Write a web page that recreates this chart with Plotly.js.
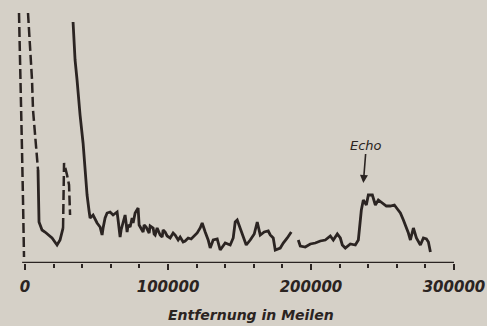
<!DOCTYPE html>
<html>
<head>
<meta charset="utf-8">
<script src="https://cdn.plot.ly/plotly-3.0.1.min.js"></script>
<style>
html,body{margin:0;padding:0;background:#d5d0c7;}
#chart{width:487px;height:326px;}
</style>
</head>
<body>
<div id="chart"></div>
<script>
// Distances in miles, signal strength in arbitrary units
const pulseLeftX = [-4200, -2800, -2100, -1400, -700];
const pulseLeftY = [250, 173, 113, 63, 6];
const pulseRightX = [2100, 3500, 4900, 5600, 7700, 9100];
const pulseRightY = [250, 220, 183, 153, 113, 93];
const nearX = [9100, 9800, 11900, 14000, 18900, 22400, 24500, 26600];
const nearY = [93, 41, 33, 31, 25, 18, 23, 35];
const spikeDashX = [26600, 27300, 29400, 30800, 31500];
const spikeDashY = [35, 100, 88, 78, 48];
const mainX = [33600,34300,35000,36400,37100,38500,40600,42000,43400,44800,45500,47600,49000,50400,52500,53900,54600,56000,57400,59500,61600,63000,64400,65100,66500,67200,68600,70000,70700,71400,72100,73500,74900,75600,77000,79100,79800,81200,82600,83300,84700,86100,86800,87500,89600,90300,91000,92400,93100,94500,95900,96600,98000,99400,101500,103600,105000,107100,108500,110600,112000,114100,116200,117600,120400,122500,123900,126000,128100,129500,131600,134400,136500,140000,143500,145600,147000,148400,150500,152600,154700,157500,160300,161700,162400,164500,167300,170100,171500,173600,175000,178500,180600,183400,186200];
const mainY = [241,223,203,183,170,148,120,93,68,52,45,48,44,40,36,28,35,45,50,51,48,50,51,43,26,33,40,48,40,31,38,36,45,40,50,55,38,34,31,38,36,32,30,37,35,29,28,35,33,28,26,33,31,27,25,30,28,23,26,21,22,25,24,26,30,35,40,31,23,15,23,24,13,20,18,25,41,43,35,27,18,23,29,37,41,28,31,32,28,25,13,15,20,25,31];
const echoX = [191100,192500,196000,199500,203000,206500,210000,213500,215600,218400,220500,221900,224000,227500,231000,233100,235200,236600,238700,240100,242900,245000,247100,249900,252700,255500,258300,260400,262500,264600,266000,268100,269500,271600,273700,276500,278600,280700,282100,283500];
const echoY = [23,17,16,19,20,22,23,27,23,29,25,18,15,19,18,23,53,63,58,68,68,58,63,60,57,57,58,54,50,43,38,30,23,35,25,18,25,24,21,11];
const tickVals = [0, 100000, 200000, 300000];
const tickText = ['0', '100000', '200000', '300000'];
const echoLabel = 'Echo';
const echoTipX = 236600, echoTipY = 80;
const xTitle = 'Entfernung in Meilen';

const ink = '#2b2422';
const dashLine = {color: ink, width: 2.5, dash: '10px,4px'};
const solidLine = {color: ink, width: 2.8};
function tr(x, y, line){return {x: x, y: y, type: 'scatter', mode: 'lines', line: line, hoverinfo: 'skip', showlegend: false};}

const data = [
  tr(pulseLeftX, pulseLeftY, dashLine),
  tr(pulseRightX, pulseRightY, dashLine),
  tr(nearX, nearY, solidLine),
  tr(spikeDashX, spikeDashY, dashLine),
  tr(mainX, mainY, solidLine),
  tr(echoX, echoY, solidLine)
];

const layout = {
  width: 487, height: 326,
  paper_bgcolor: '#d5d0c7', plot_bgcolor: 'rgba(0,0,0,0)',
  margin: {l: 15, r: 33, t: 8, b: 63},
  showlegend: false,
  xaxis: {
    range: [-7000, 300000], showgrid: false, zeroline: false, showline: false,
    tickmode: 'array', tickvals: tickVals, ticktext: tickText,
    ticks: 'outside', ticklen: 6, tickwidth: 2.2, tickcolor: ink, ticklabelstandoff: 4,
    tickfont: {family: 'DejaVu Sans', size: 15, color: ink, weight: 'bold', style: 'italic'},
    minor: {dtick: 20000, tick0: 0, ticks: 'outside', ticklen: 4, tickwidth: 2, tickcolor: ink, showgrid: false},
    fixedrange: true
  },
  yaxis: {range: [0, 255], visible: false, fixedrange: true},
  shapes: [
    {type: 'line', xref: 'x', yref: 'y', x0: -2000, x1: 300000, y0: 0, y1: 0, line: {color: ink, width: 2.5}},
    {type: 'line', xref: 'x', yref: 'y', x0: 300000, x1: 300000, y0: 0, y1: -9, line: {color: ink, width: 2.2}}
  ],
  annotations: [
    {x: echoTipX, y: echoTipY, xref: 'x', yref: 'y', text: echoLabel, showarrow: true,
     ax: 3, ay: -38, arrowhead: 2, arrowsize: 1, arrowwidth: 1.6, arrowcolor: ink,
     font: {family: 'DejaVu Sans', size: 13, color: ink, style: 'italic'}},
    {xref: 'paper', yref: 'paper', text: xTitle, showarrow: false,
     xanchor: 'center', yanchor: 'middle',
     x: (251 - 15) / (487 - 15 - 33), y: -(315 - 263) / 255,
     font: {family: 'DejaVu Sans', size: 14, color: ink, weight: 'bold', style: 'italic'}}
  ]
};

Plotly.newPlot('chart', data, layout, {staticPlot: true, displayModeBar: false});
</script>
</body>
</html>
